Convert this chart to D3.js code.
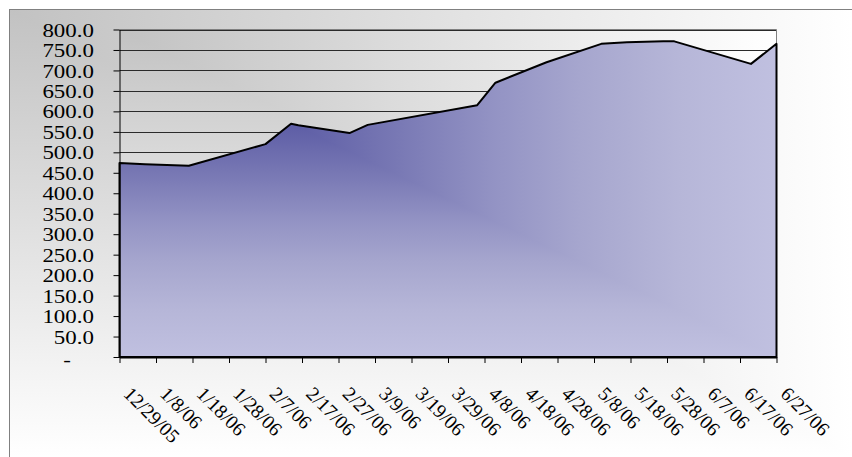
<!DOCTYPE html>
<html>
<head>
<meta charset="utf-8">
<script src="https://cdn.jsdelivr.net/npm/d3@7"></script>
<style>
  body { margin: 0; background: #fff; }
  svg { display: block; }
  text { font-family: 'Liberation Serif'; }
</style>
</head>
<body>
<svg id="chart" width="852" height="457"></svg>
<script>
// values
var dates = ['2005-12-29', '2006-01-05', '2006-01-15', '2006-01-17', '2006-02-07', '2006-02-14',
  '2006-02-16', '2006-03-02', '2006-03-07', '2006-04-06', '2006-04-11', '2006-04-25',
  '2006-05-10', '2006-05-17', '2006-05-27', '2006-05-30', '2006-06-20', '2006-06-27'];
var values = [474, 471, 468, 467, 520, 570, 566, 547, 567, 615, 670, 720, 765, 769, 771, 771, 716, 765];

var xTickLabels = ['12/29/05', '1/8/06', '1/18/06', '1/28/06', '2/7/06', '2/17/06', '2/27/06',
  '3/9/06', '3/19/06', '3/29/06', '4/8/06', '4/18/06', '4/28/06', '5/8/06', '5/18/06',
  '5/28/06', '6/7/06', '6/17/06', '6/27/06'];
var yTicks = [0, 50, 100, 150, 200, 250, 300, 350, 400, 450, 500, 550, 600, 650, 700, 750, 800];

var parseIso = d3.utcParse('%Y-%m-%d');
function parseLabel(s) {
  var p = s.split('/');
  return new Date(Date.UTC(2000 + +p[2], +p[0] - 1, +p[1]));
}

var data = dates.map(function(d, i) { return { date: parseIso(d), value: values[i] }; });
var tickDates = xTickLabels.map(parseLabel);

// plot box (note: "top" is a reserved window property, so use other names)
var plotL = 119.5, plotR = 776.5, plotT = 29.5, plotB = 357;

var svg = d3.select('#chart');
var defs = svg.append('defs');

var xScale = d3.scaleUtc()
  .domain([tickDates[0], tickDates[tickDates.length - 1]])
  .range([plotL, plotR]);

var yScale = d3.scaleLinear()
  .domain([0, 800])
  .range([plotB, plotT]);

// "from corner" gradient: colour follows max(dx/w, dy/h) from the top-left corner
var gid = 0;
function addStops(grad, stops) {
  stops.forEach(function(s) {
    grad.append('stop').attr('offset', s[0]).attr('stop-color', s[1]);
  });
}
function cornerFill(g, x0, y0, x1, y1, stops, drawShape) {
  gid++;
  var v = defs.append('linearGradient').attr('id', 'gv' + gid)
    .attr('gradientUnits', 'userSpaceOnUse')
    .attr('x1', 0).attr('y1', y0).attr('x2', 0).attr('y2', y1);
  addStops(v, stops);
  var h = defs.append('linearGradient').attr('id', 'gh' + gid)
    .attr('gradientUnits', 'userSpaceOnUse')
    .attr('x1', x0).attr('y1', 0).attr('x2', x1).attr('y2', 0);
  addStops(h, stops);
  defs.append('clipPath').attr('id', 'gc' + gid)
    .append('polygon')
    .attr('points', [[x0, y0], [x1, y0], [x1, y1]].map(function(p) { return p.join(','); }).join(' '));

  drawShape(g).attr('fill', 'url(#gv' + gid + ')');
  drawShape(g.append('g').attr('clip-path', 'url(#gc' + gid + ')')).attr('fill', 'url(#gh' + gid + ')');
}

var grayStops = [[0, '#c2c2c2'], [1, '#ffffff']];

// chart area
cornerFill(svg.append('g'), 9, 9, 852, 457, grayStops, function(g) {
  return g.append('rect').attr('x', 9).attr('y', 9).attr('width', 900).attr('height', 500);
});
svg.append('rect')
  .attr('x', 9.5).attr('y', 9.5).attr('width', 900).attr('height', 500)
  .attr('fill', 'none').attr('stroke', '#808080');

// plot area
cornerFill(svg.append('g'), plotL, plotT, plotR, plotB, grayStops, function(g) {
  return g.append('rect').attr('x', plotL).attr('y', plotT)
    .attr('width', plotR - plotL).attr('height', plotB - plotT);
});

// gridlines
svg.append('g')
  .selectAll('line')
  .data(yTicks.filter(function(t) { return t > 0; }))
  .enter()
  .append('line')
  .attr('x1', plotL).attr('x2', plotR)
  .attr('y1', d => Math.round(yScale(d)) + 0.5)
  .attr('y2', d => Math.round(yScale(d)) + 0.5)
  .attr('stroke', '#2a2a2a').attr('stroke-width', 1);

// area
var area = d3.area()
  .x(d => xScale(d.date))
  .y0(yScale(0))
  .y1(d => yScale(d.value));

var ax0 = xScale(data[0].date), ax1 = xScale(data[data.length - 1].date);
var ay0 = yScale(d3.max(values)), ay1 = yScale(0);
var areaStops = [[0, '#3c3c92'], [0.27, '#5e5ea6'], [0.42, '#7878b4'], [0.57, '#9393c4'],
  [0.7, '#a6a6ce'], [0.85, '#b6b6d8'], [1, '#c0c0e0']];
cornerFill(svg.append('g'), ax0, ay0, ax1, ay1, areaStops, function(g) {
  return g.append('path').datum(data).attr('d', area);
});

// plot border
svg.append('path')
  .attr('d', 'M' + plotL + ',' + plotT + 'H' + plotR + 'V' + plotB)
  .attr('fill', 'none').attr('stroke', '#808080');

svg.append('path').datum(data)
  .attr('d', area)
  .attr('fill', 'none')
  .attr('stroke', '#000')
  .attr('stroke-width', 2)
  .attr('stroke-linejoin', 'round');

// y axis
var yAxis = d3.axisLeft(yScale)
  .tickValues(yTicks)
  .tickSize(6)
  .tickSizeOuter(0)
  .tickFormat('');
var yg = svg.append('g').attr('transform', 'translate(' + plotL + ',0)').call(yAxis);
yg.selectAll('line, path').attr('stroke', '#000');

svg.append('g')
  .selectAll('text')
  .data(yTicks)
  .enter()
  .append('text')
  .attr('transform', d => d == 0
    ? 'translate(67,' + (yScale(d) + 3) + ') scale(1.24,1)'
    : 'translate(94,' + (yScale(d) + 1) + ') scale(1.24,1)')
  .attr('dy', '0.33em')
  .attr('text-anchor', d => d == 0 ? 'middle' : 'end')
  .attr('font-size', '18.5px')
  .attr('fill', '#000')
  .text(d => d == 0 ? '-' : d3.format('.1f')(d));

// x axis
var xAxis = d3.axisBottom(xScale)
  .tickValues(tickDates)
  .tickSize(6)
  .tickSizeOuter(0)
  .tickFormat('');
var xg = svg.append('g').attr('transform', 'translate(0,' + plotB + ')').call(xAxis);
xg.selectAll('line, path').attr('stroke', '#000');
xg.select('.domain').attr('stroke-width', 2);

svg.append('g')
  .selectAll('text')
  .data(xTickLabels)
  .enter()
  .append('text')
  .attr('transform', (d, i) => 'translate(' + (xScale(tickDates[i]) + 3) + ',' + (plotB + 38) + ') rotate(45)')
  .attr('text-anchor', 'start')
  .attr('font-size', '19.5px')
  .attr('fill', '#000')
  .text(d => d);
</script>
</body>
</html>
